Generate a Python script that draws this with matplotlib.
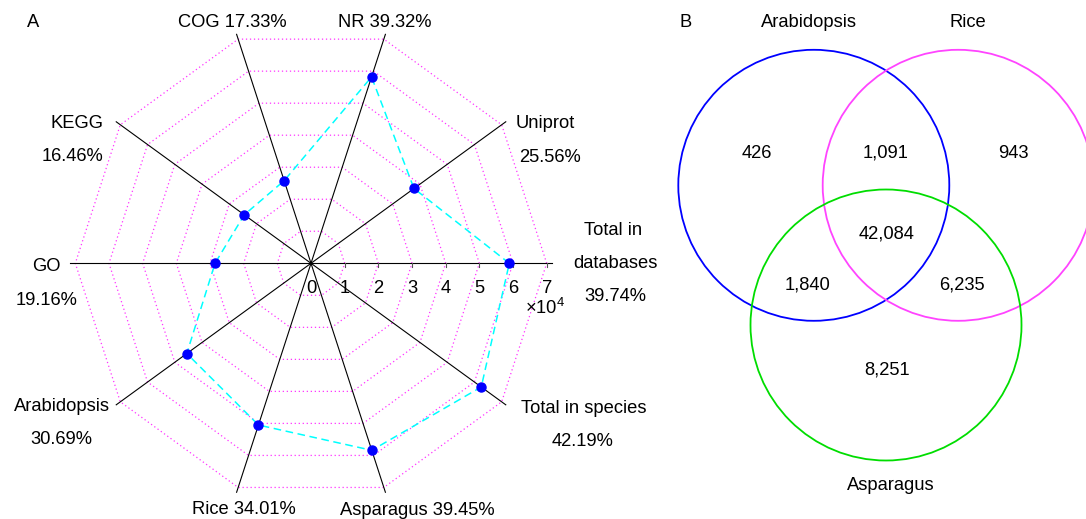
import numpy as np
import matplotlib
matplotlib.use('Agg')
import matplotlib.pyplot as plt
from matplotlib.patches import Circle

plt.rcParams['font.family'] = ['Liberation Sans', 'DejaVu Sans']
plt.rcParams['mathtext.fontset'] = 'custom'
plt.rcParams['mathtext.rm'] = 'Liberation Sans'
plt.rcParams['mathtext.it'] = 'Liberation Sans:italic'

# ---------------- data ----------------
categories = ['Total in databases', 'Uniprot', 'NR', 'COG', 'KEGG', 'GO',
              'Arabidopsis', 'Rice', 'Asparagus', 'Total in species']
percent_labels = ['39.74%', '25.56%', '39.32%', '17.33%', '16.46%', '19.16%',
                  '30.69%', '34.01%', '39.45%', '42.19%']
values = [5.89, 3.78, 5.82, 2.58, 2.45, 2.85, 4.56, 5.05, 5.84, 6.25]  # x10^4
radial_ticks = [0, 1, 2, 3, 4, 5, 6, 7]

venn_sets = ['Arabidopsis', 'Rice', 'Asparagus']
venn_counts = ['426', '1,091', '943', '42,084', '1,840', '6,235', '8,251']

# ---------------- figure ----------------
W, H = 1086, 519
fig = plt.figure(figsize=(W / 100, H / 100), dpi=100)
fs = 13.2

# radar axes: centre at pixel (311, 263.3), 33.67 px per unit
u = 33.67
cx, cy = 311.0, 263.3
axA = fig.add_axes([0, 0, 680 / W, 1])
axA.set_xlim(-cx / u, (680 - cx) / u)
axA.set_ylim((cy - H) / u, cy / u)
axA.axis('off')

n = len(categories)
ang = np.deg2rad(np.arange(n) * 360.0 / n)
rmax = radial_ticks[-1]

# grid rings (decagons)
for r in radial_ticks[1:]:
    xs = np.r_[r * np.cos(ang), r * np.cos(ang[0])]
    ys = np.r_[r * np.sin(ang), r * np.sin(ang[0])]
    axA.plot(xs, ys, color='#ff33ff', ls=(0, (1, 2.2)), lw=0.9, zorder=1)

# spokes
for a in ang:
    axA.plot([0, 7.15 * np.cos(a)], [0, 7.15 * np.sin(a)], color='black', lw=0.8, zorder=2)

# ticks on the horizontal spoke
for t in radial_ticks[1:]:
    axA.plot([t, t], [0, -0.11], color='#555555', lw=0.8, zorder=2)
for t in radial_ticks:
    axA.text(t, -0.74, str(t), ha='center', va='center', fontsize=fs)
axA.text(6.94, -1.34, r'$\times10^{4}$', ha='center', va='center', fontsize=fs)

# data polygon
v = np.array(values)
px = np.r_[v * np.cos(ang), v[0] * np.cos(ang[0])]
py = np.r_[v * np.sin(ang), v[0] * np.sin(ang[0])]
axA.plot(px, py, color='#00ffff', ls=(0, (5, 3)), lw=1.1, zorder=3)
axA.plot(v * np.cos(ang), v * np.sin(ang), 'o', color='#0000ff', ms=6.5, zorder=4, mec='#0000ff')

# category labels (layout in pixels: lines, x, y of each line centre, ha)
def P(x, y):
    return (x - cx) / u, (cy - y) / u

cap = 6.6  # half cap height in px
label_layout = {
    'Total in databases': ([('Total in', 612.7, 228.3), ('databases', 615, 261.7), (percent_labels[0], 615, 294.3)], 'center'),
    'Uniprot': ([('Uniprot', 545, 121.7), (percent_labels[1], 549.5, 155)], 'center'),
    'NR': ([('NR ' + percent_labels[2], 385, 20.7)], 'center'),
    'COG': ([('COG ' + percent_labels[3], 232.5, 20.7)], 'center'),
    'KEGG': ([('KEGG', 104, 121.7), (percent_labels[4], 103.3, 154.3)], 'right'),
    'GO': ([('GO', 46.7, 264.3), (percent_labels[5], 46.5, 298.3)], 'center'),
    'Arabidopsis': ([('Arabidopsis', 61.7, 404), (percent_labels[6], 61.5, 437.3)], 'center'),
    'Rice': ([('Rice ' + percent_labels[7], 243.8, 507.3)], 'center'),
    'Asparagus': ([('Asparagus ' + percent_labels[8], 417, 508.3)], 'center'),
    'Total in species': ([('Total in species', 584, 406), (percent_labels[9], 583, 439.3)], 'center'),
}
for c in categories:
    lines, ha = label_layout[c]
    for txt, x, y in lines:
        X, Y = P(x, y + cap)
        axA.text(X, Y, txt, ha=ha, va='baseline', fontsize=fs)

X, Y = P(33, 20 + cap)
axA.text(X, Y, 'A', ha='center', va='baseline', fontsize=fs)

# ---------------- Venn ----------------
axB = fig.add_axes([660 / W, 0, 426 / W, 1])
axB.set_xlim(660, 1086)
axB.set_ylim(H, 0)
axB.axis('off')

circle_layout = [((813.8, 185.3), '#0000ff'), ((958.2, 185.3), '#ff44ff'), ((886.0, 325.0), '#00dd00')]
rad = 135.5
for (ctr, col) in circle_layout:
    axB.add_patch(Circle(ctr, rad, fill=False, ec=col, lw=1.3, clip_on=False))

set_label_pos = [(809, 20), (968, 20), (891, 483)]
for name, (x, y) in zip(venn_sets, set_label_pos):
    axB.text(x, y + cap, name, ha='center', va='baseline', fontsize=fs)

count_pos = [(757, 151), (886, 151), (1013, 151), (887, 232), (808, 283), (962, 283), (887, 368)]
for cnt, (x, y) in zip(venn_counts, count_pos):
    axB.text(x, y + cap, cnt, ha='center', va='baseline', fontsize=fs)

axB.text(686, 20 + cap, 'B', ha='center', va='baseline', fontsize=fs)

fig.savefig('out.png', dpi=100)
